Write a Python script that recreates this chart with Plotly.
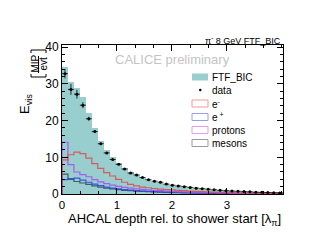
import plotly.graph_objects as go
import numpy as np

bin_width = 0.1085
n_bins = 37

data_vals = [32.8, 28.5, 27.2, 24.2, 20.5, 17.0, 13.7, 11.2, 9.4, 8.1, 6.8, 5.7, 5.2, 4.5,
             3.9, 3.5, 3.2, 2.7, 2.4, 2.2, 2.0, 1.8, 1.6, 1.45, 1.3, 1.15, 1.0, 0.9, 0.8,
             0.75, 0.65, 0.6, 0.5, 0.45, 0.4, 0.35, 0.3]
data_err = [1.3, 1.5, 1.2, 0.8, 0.5, 0.4, 0.35, 0.3, 0.3, 0.25, 0.25, 0.2, 0.2, 0.2,
            0.15, 0.15, 0.15, 0.15, 0.1, 0.1, 0.1, 0.1, 0.1, 0.1, 0.1, 0.1, 0.1, 0.1, 0.1,
            0.1, 0.1, 0.1, 0.1, 0.1, 0.1, 0.1, 0.1]
mc_total = [34.6, 30.4, 29.0, 26.5, 22.0, 18.0, 14.5, 12.0, 10.0, 8.4, 7.0, 5.9, 5.1, 4.4,
            3.8, 3.3, 3.0, 2.6, 2.3, 2.05, 1.85, 1.65, 1.5, 1.35, 1.2, 1.05, 0.95, 0.85,
            0.75, 0.68, 0.6, 0.55, 0.48, 0.42, 0.38, 0.33, 0.28]
electrons = [9.3, 10.7, 11.4, 11.0, 9.8, 8.3, 7.0, 5.8, 4.9, 4.0, 3.2, 2.6, 2.2, 1.9, 1.7,
             1.5, 1.35, 1.2, 1.1, 1.0, 0.9, 0.8, 0.72, 0.65, 0.58, 0.52, 0.47, 0.42, 0.38,
             0.34, 0.3, 0.27, 0.24, 0.21, 0.19, 0.17, 0.15]
positrons = [3.9, 4.2, 4.3, 3.8, 3.2, 2.7, 2.3, 1.9, 1.6, 1.4, 1.2, 1.05, 0.92, 0.82, 0.73,
             0.65, 0.58, 0.52, 0.47, 0.42, 0.38, 0.34, 0.3, 0.27, 0.24, 0.22, 0.2, 0.18,
             0.16, 0.14, 0.13, 0.12, 0.1, 0.09, 0.08, 0.07, 0.06]
protons = [14.1, 8.0, 6.0, 5.3, 4.7, 3.9, 3.3, 2.8, 2.4, 2.1, 1.8, 1.6, 1.4, 1.25, 1.1,
           1.0, 0.9, 0.8, 0.72, 0.65, 0.58, 0.52, 0.47, 0.42, 0.38, 0.34, 0.3, 0.27,
           0.24, 0.22, 0.2, 0.18, 0.16, 0.14, 0.13, 0.12, 0.1]
mesons = [5.4, 4.0, 3.4, 3.0, 2.6, 2.2, 1.9, 1.6, 1.4, 1.2, 1.0, 0.9, 0.8, 0.7, 0.62,
          0.55, 0.5, 0.45, 0.4, 0.36, 0.32, 0.29, 0.26, 0.23, 0.21, 0.19, 0.17, 0.15,
          0.14, 0.12, 0.11, 0.1, 0.09, 0.08, 0.07, 0.06, 0.05]

x_ticks = [0, 1, 2, 3]
y_ticks = [0, 10, 20, 30, 40]

edges = np.arange(n_bins + 1) * bin_width
centers = edges[:-1] + bin_width / 2

W, H = 318, 246
L, R, T, B = 62, 283, 45, 194
def px(x):
    return (x - L) / (R - L)
def py(y):
    return (B - y) / (B - T)

FONT = "Liberation Sans, Arial, Helvetica, sans-serif"
TEAL = "#98cece"

fig = go.Figure()
fig.add_trace(go.Bar(x=centers, y=mc_total, width=bin_width, marker=dict(color=TEAL, line=dict(width=0)),
                     showlegend=False, hoverinfo="skip"))

def step(vals, color):
    xs = [edges[0]] + list(edges)
    ys = [0] + list(vals) + [vals[-1]]
    fig.add_trace(go.Scatter(x=xs, y=ys, mode="lines", line=dict(color=color, width=1.2, shape="hv"),
                             showlegend=False, hoverinfo="skip"))

step(mesons, "rgba(60,80,80,0.9)")
step(positrons, "rgba(50,70,230,0.9)")
step(protons, "rgba(170,80,240,0.9)")
step(electrons, "rgba(220,80,80,0.9)")

fig.add_trace(go.Scatter(x=centers, y=data_vals, mode="markers",
                         marker=dict(color="black", size=3),
                         error_y=dict(type="data", array=data_err, color="black", thickness=0.8, width=0),
                         error_x=dict(type="constant", value=bin_width / 2, color="black", thickness=0.8, width=0),
                         showlegend=False, hoverinfo="skip"))

ann = []
shapes = []
ann.append(dict(x=px(283), y=py(40), xref="paper", yref="paper", xanchor="right", yanchor="middle",
                text="π<sup>-</sup> 8 GeV FTF_BIC", showarrow=False, font=dict(size=9, color="black", family=FONT)))
ann.append(dict(x=px(172), y=py(59), xref="paper", yref="paper", xanchor="center", yanchor="middle",
                text="CALICE preliminary", showarrow=False, font=dict(size=13, color="#c4c4c4", family=FONT)))
ann.append(dict(x=px(283), y=py(219), xref="paper", yref="paper", xanchor="right", yanchor="middle",
                text="AHCAL depth rel. to shower start [λ<sub>π</sub>]", showarrow=False,
                font=dict(size=13, color="black", family=FONT)))
ann.append(dict(x=px(25), y=py(104), xref="paper", yref="paper", xanchor="center", yanchor="middle",
                text="E<sub>vis</sub>", textangle=-90, showarrow=False, font=dict(size=13, color="black", family=FONT)))
ann.append(dict(x=px(34.5), y=py(64), xref="paper", yref="paper", xanchor="center", yanchor="middle",
                text="MIP", textangle=-90, showarrow=False, font=dict(size=10, color="black", family=FONT)))
ann.append(dict(x=px(42.5), y=py(64), xref="paper", yref="paper", xanchor="center", yanchor="middle",
                text="evt", textangle=-90, showarrow=False, font=dict(size=10, color="black", family=FONT)))
shapes.append(dict(type="line", xref="paper", yref="paper", x0=px(38.5), x1=px(38.5), y0=py(56), y1=py(73),
                   line=dict(color="black", width=1)))
for yb, sgn in ((77, -1), (50, 1)):
    shapes.append(dict(type="path", xref="paper", yref="paper",
                       path=f"M {px(31)} {py(yb + sgn * 3)} L {px(31)} {py(yb)} L {px(46)} {py(yb)} L {px(46)} {py(yb + sgn * 3)}",
                       line=dict(color="black", width=1)))

leg_y = [77, 90, 103.5, 117, 130, 143]
labels = ["FTF_BIC", "data", "e<sup>-</sup>", "e<sup> +</sup>", "protons", "mesons"]
box_cols = [None, None, "#f39a9a", "#9a9af3", "#e79af3", "#9a9a9a"]
for i, (yy, lab) in enumerate(zip(leg_y, labels)):
    ann.append(dict(x=px(210), y=py(yy), xref="paper", yref="paper", xanchor="left", yanchor="middle",
                    text=lab, showarrow=False, font=dict(size=10, color="black", family=FONT)))
    if i == 0:
        shapes.append(dict(type="rect", xref="paper", yref="paper", x0=px(192), x1=px(208),
                           y0=py(yy + 3.5), y1=py(yy - 3.5), fillcolor=TEAL, line=dict(width=0)))
    elif i == 1:
        shapes.append(dict(type="circle", xref="paper", yref="paper", x0=px(199), x1=px(201.5),
                           y0=py(yy + 1.2), y1=py(yy - 1.2), fillcolor="black", line=dict(width=0)))
    else:
        shapes.append(dict(type="rect", xref="paper", yref="paper", x0=px(192), x1=px(208),
                           y0=py(yy + 3.5), y1=py(yy - 3.5), fillcolor="rgba(0,0,0,0)",
                           line=dict(color=box_cols[i], width=1)))

fig.update_layout(
    width=W, height=H, margin=dict(l=L, r=W - R, t=T, b=H - B),
    paper_bgcolor="white", plot_bgcolor="white", bargap=0, showlegend=False,
    annotations=ann, shapes=shapes,
    font=dict(family=FONT, color="black"),
    xaxis=dict(range=[0, 4.02], tickvals=x_ticks, ticktext=[str(v) for v in x_ticks], ticks="inside",
               ticklen=6, tickwidth=1, tickcolor="black", showline=True, linecolor="black", linewidth=1,
               mirror="allticks", showgrid=False, zeroline=False, tickfont=dict(size=11.5),
               minor=dict(ticks="inside", ticklen=3, dtick=1 / 3, tickcolor="black", showgrid=False)),
    yaxis=dict(range=[0, 40.6], tickvals=y_ticks, ticktext=[str(v) for v in y_ticks], ticks="inside",
               ticklen=6, tickwidth=1, tickcolor="black", showline=True, linecolor="black", linewidth=1,
               mirror="allticks", showgrid=False, zeroline=False, tickfont=dict(size=12),
               minor=dict(ticks="inside", ticklen=3, dtick=2, tickcolor="black", showgrid=False)),
)

fig.write_html("out.html", config={"displayModeBar": False},
               post_script="document.body.style.margin='0';document.body.style.overflow='hidden';")
